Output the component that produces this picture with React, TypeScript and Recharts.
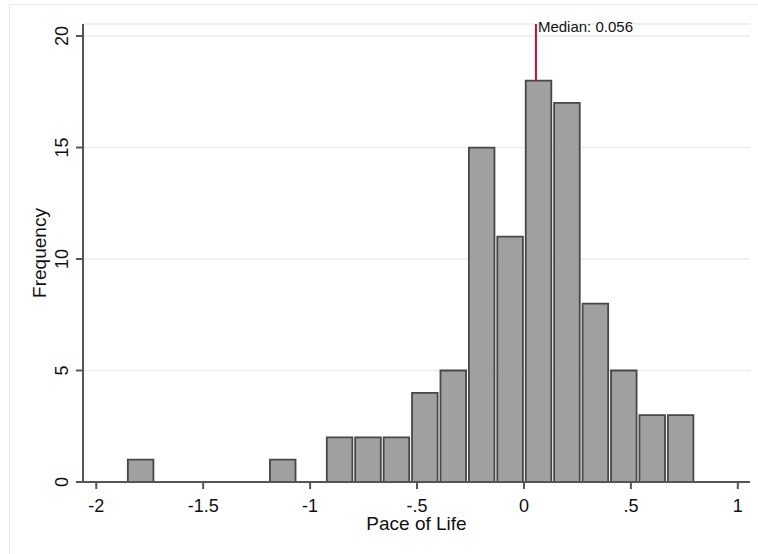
import { ComposedChart, Bar, XAxis, YAxis, CartesianGrid, ReferenceLine } from 'recharts'

// histogram of pace-of-life scores, 20 equal-width bins
const BIN_START = -1.857
const BIN_WIDTH = 0.1329
const BIN_COUNTS = [1, 0, 0, 0, 0, 1, 0, 2, 2, 2, 4, 5, 15, 11, 18, 17, 8, 5, 3, 3]
const MEDIAN = 0.056

const X_DOMAIN: [number, number] = [-2.062, 1.057]
const X_TICKS = [-2, -1.5, -1, -0.5, 0, 0.5, 1]
const X_TICK_LABELS = ['-2', '-1.5', '-1', '-.5', '0', '.5', '1']
const Y_DOMAIN: [number, number] = [0, 20.54]
const Y_TICKS = [0, 5, 10, 15, 20]

const WIDTH = 758
const HEIGHT = 554
const MARGIN = { top: 24, right: 8, bottom: 0, left: 0 }
const Y_AXIS_W = 83
const X_AXIS_H = 72
const PLOT_W = WIDTH - MARGIN.left - MARGIN.right - Y_AXIS_W

const FONT = 'Liberation Sans, Arial, sans-serif'
const AXIS_COLOR = '#555555'

const data = BIN_COUNTS.map((count, i) => ({
  mid: BIN_START + (i + 0.5) * BIN_WIDTH,
  count,
})).filter((d) => d.count > 0)

const medianBin = Math.floor((MEDIAN - BIN_START) / BIN_WIDTH)
const medianCount = BIN_COUNTS[medianBin]

// bar width in px so neighbouring bins touch
const barPx = (BIN_WIDTH / (X_DOMAIN[1] - X_DOMAIN[0])) * PLOT_W

function XTick({ x, y, payload }: any) {
  const idx = X_TICKS.indexOf(payload.value)
  return (
    <text x={x} y={y + 21} textAnchor="middle" fontSize={18} fontFamily={FONT} fill="#111">
      {X_TICK_LABELS[idx] ?? payload.value}
    </text>
  )
}

function YTick({ x, y, payload }: any) {
  const bx = x - 6
  return (
    <text
      x={bx}
      y={y}
      transform={`rotate(-90 ${bx} ${y})`}
      textAnchor="middle"
      fontSize={18}
      fontFamily={FONT}
      fill="#111"
    >
      {payload.value}
    </text>
  )
}

function XLabel({ viewBox }: any) {
  const cx = viewBox.x + viewBox.width / 2
  return (
    <text x={cx} y={viewBox.y + 48} textAnchor="middle" fontSize={19} fontFamily={FONT} fill="#111">
      Pace of Life
    </text>
  )
}

function YLabel({ viewBox }: any) {
  const cx = 46
  const cy = viewBox.y + viewBox.height / 2
  return (
    <text
      x={cx}
      y={cy}
      transform={`rotate(-90 ${cx} ${cy})`}
      textAnchor="middle"
      fontSize={19}
      fontFamily={FONT}
      fill="#111"
    >
      Frequency
    </text>
  )
}

function MedianMarker(props: any) {
  const { x1, y1, x2, y2 } = props
  const top = Math.min(y1, y2)
  const bottom = Math.max(y1, y2)
  return (
    <g>
      <line x1={x1} y1={bottom} x2={x2} y2={top} stroke="#c90a3c" strokeWidth={2} />
      <text x={x1 + 2} y={top + 7.5} fontSize={15} fontFamily={FONT} fill="#111">
        {`Median: ${MEDIAN.toFixed(3)}`}
      </text>
    </g>
  )
}

export default function App() {
  return (
    <div style={{ position: 'relative', width: WIDTH, height: HEIGHT, background: '#fff' }}>
      <style>{'body { margin: 0; }'}</style>
      {/* light outer frame */}
      <div
        style={{
          position: 'absolute',
          left: 9,
          top: 4,
          right: 0,
          bottom: 0,
          borderLeft: '1px solid #e4ecef',
          borderTop: '1px solid #e4ecef',
        }}
      />
      <div style={{ position: 'absolute', left: 0, top: 0 }}>
        <ComposedChart width={WIDTH} height={HEIGHT} data={data} margin={MARGIN}>
          <CartesianGrid vertical={false} stroke="#e6eef1" strokeWidth={1.5} />
          <XAxis
            type="number"
            dataKey="mid"
            domain={X_DOMAIN}
            ticks={X_TICKS}
            allowDataOverflow
            interval={0}
            height={X_AXIS_H}
            tickSize={7}
            axisLine={{ stroke: AXIS_COLOR, strokeWidth: 2 }}
            tickLine={{ stroke: AXIS_COLOR, strokeWidth: 2 }}
            tick={<XTick />}
            label={<XLabel />}
          />
          <YAxis
            type="number"
            domain={Y_DOMAIN}
            ticks={Y_TICKS}
            allowDataOverflow
            interval={0}
            width={Y_AXIS_W}
            tickSize={7}
            axisLine={{ stroke: AXIS_COLOR, strokeWidth: 2 }}
            tickLine={{ stroke: AXIS_COLOR, strokeWidth: 2 }}
            tick={<YTick />}
            label={<YLabel />}
          />
          <Bar
            dataKey="count"
            fill="#a0a0a0"
            stroke="#474747"
            strokeWidth={1.8}
            barSize={barPx}
            isAnimationActive={false}
          />
          <ReferenceLine
            segment={[
              { x: MEDIAN, y: medianCount },
              { x: MEDIAN, y: Y_DOMAIN[1] },
            ]}
            shape={<MedianMarker />}
          />
        </ComposedChart>
      </div>
    </div>
  )
}
